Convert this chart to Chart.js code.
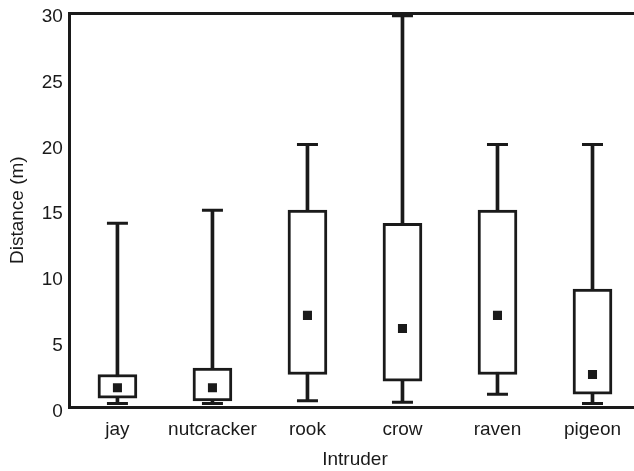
<!DOCTYPE html>
<html>
<head>
<meta charset="utf-8">
<script src="https://cdn.jsdelivr.net/npm/chart.js@4.4.0/dist/chart.umd.min.js"></script>
<style>
    html, body { margin: 0; padding: 0; background: #fff; overflow: hidden; }
    #wrap { width: 640px; height: 471px; }
</style>
</head>
<body>
<div id="wrap"><canvas id="boxChart" width="640" height="471"></canvas></div>
<script>
const categories = ["jay", "nutcracker", "rook", "crow", "raven", "pigeon"];
const whiskerLow = [0.3, 0.3, 0.5, 0.4, 1.0, 0.3];
const boxLow = [0.7, 0.5, 2.5, 2.0, 2.5, 1.0];
const medians = [1.5, 1.5, 7, 6, 7, 2.5];
const boxHigh = [2.5, 3.0, 15, 14, 15, 9];
const whiskerHigh = [14, 15, 20, 29.8, 20, 20];
const yTicks = [0, 5, 10, 15, 20, 25, 30];

const ink = "#1a1a1a";
const font = { family: "'Liberation Sans', Arial, sans-serif", size: 19 };

// caps at both whisker ends
const caps = [];
categories.forEach((c, i) => {
    caps.push({ x: c, y: whiskerLow[i] });
    caps.push({ x: c, y: whiskerHigh[i] });
});

const ctx = document.getElementById("boxChart").getContext("2d");

const boxChart = new Chart(ctx, {
    type: "bar",
    data: {
        labels: categories,
        datasets: [
            {
                type: "line",
                label: "median",
                data: medians,
                showLine: false,
                pointStyle: "rect",
                pointRadius: 6.4,
                pointBorderWidth: 0,
                pointBackgroundColor: ink,
            },
            {
                label: "box",
                data: categories.map((c, i) => [boxLow[i], boxHigh[i]]),
                backgroundColor: "#fff",
                borderColor: ink,
                borderWidth: 3,
                borderSkipped: false,
                barThickness: 39,
                grouped: false,
            },
            {
                type: "line",
                label: "caps",
                data: caps,
                showLine: false,
                pointStyle: "line",
                pointRadius: 10.5,
                pointBorderWidth: 3,
                pointBorderColor: ink,
            },
            {
                label: "whisker",
                data: categories.map((c, i) => [whiskerLow[i], whiskerHigh[i]]),
                backgroundColor: ink,
                borderWidth: 0,
                barThickness: 3,
                grouped: false,
            },
        ],
    },
    options: {
        responsive: false,
        animation: false,
        layout: {
            autoPadding: false,
            padding: { top: 13, left: 6, right: 0, bottom: 0 },
        },
        plugins: {
            legend: { display: false },
            tooltip: { enabled: false },
        },
        scales: {
            x: {
                grid: { display: false, drawTicks: false },
                border: { color: ink, width: 3 },
                ticks: {
                    color: ink,
                    font: font,
                    padding: 11,
                    maxRotation: 0,
                    minRotation: 0,
                    autoSkip: false,
                },
                title: {
                    display: true,
                    text: "Intruder",
                    color: ink,
                    font: font,
                    padding: { top: -4, bottom: 0 },
                },
            },
            xTop: {
                position: "top",
                grid: { display: false, drawTicks: false },
                border: { color: ink, width: 3 },
                ticks: { display: false },
            },
            y: {
                min: 0,
                max: 30,
                afterBuildTicks: (axis) => {
                    axis.ticks = yTicks.map((v) => ({ value: v }));
                },
                // let the "30" label hang close to the top border
                afterFit: (axis) => {
                    axis.paddingTop = 0;
                    axis.paddingBottom = 0;
                },
                grid: { display: false, drawTicks: false },
                border: { color: ink, width: 3 },
                ticks: { color: ink, font: font, padding: 7, labelOffset: 4 },
                title: {
                    display: true,
                    text: "Distance (m)",
                    color: ink,
                    font: font,
                    padding: { top: 0, bottom: 6 },
                },
            },
        },
    },
});
</script>
</body>
</html>
